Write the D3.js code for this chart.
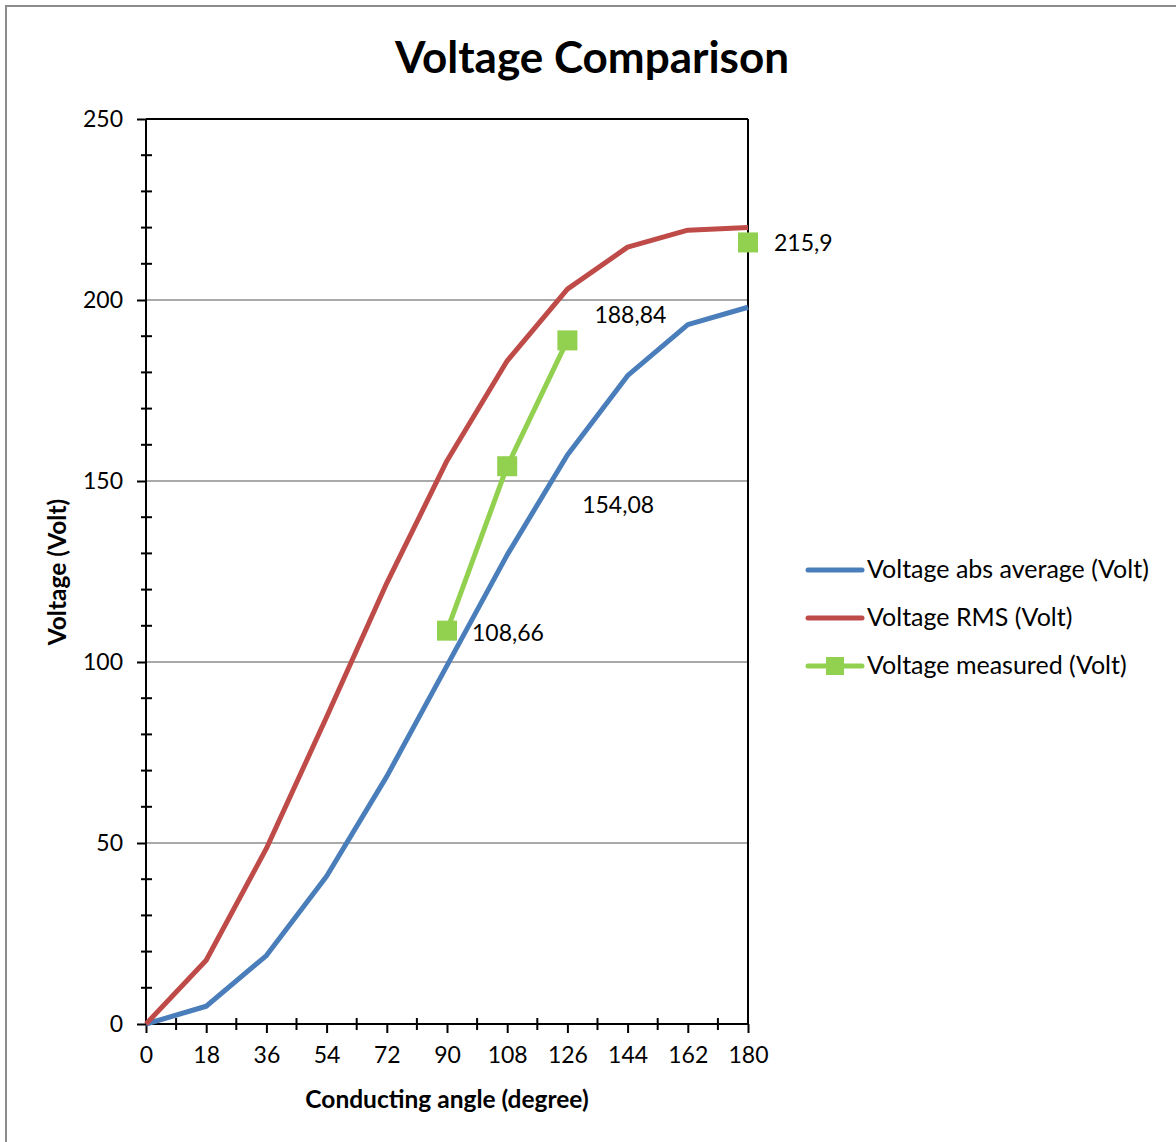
<!DOCTYPE html>
<html>
<head>
<meta charset="utf-8">
<script src="https://cdn.jsdelivr.net/npm/d3@7"></script>
<style>
body{margin:0;background:#fff;}
text{font-family:Lato,'Open Sans',sans-serif;fill:#000;}
</style>
</head>
<body>
<script>
// data
var angles=[0,18,36,54,72,90,108,126,144,162,180];
var absAverage=[0,4.9,18.9,40.8,68.4,99,129.6,157.2,179.1,193.2,198];
var rms=[0,17.6,48.5,84.8,121.8,155.6,183.2,203,214.6,219.3,220];
var measured=[null,null,null,null,null,108.66,154.08,188.84,null,null,215.9];
var measuredLabels=['','','','','','108,66','154,08','188,84','','','215,9'];
var labelShift=[null,null,null,null,null,[25,10],[75,47],[27,-17],null,null,[26,9]];
var yTicks=[0,50,100,150,200,250];
var seriesNames=['Voltage abs average (Volt)','Voltage RMS (Volt)','Voltage measured (Volt)'];
var colors=['#4a7ebb','#be4b48','#92d050'];

var W=1176,H=1142;
var pLeft=146,pRight=748,pTop=119,pBottom=1024;

var svg=d3.select('body').append('svg').attr('width',W).attr('height',H);

// chart frame (goes beyond the picture on the right and bottom)
svg.append('rect')
    .attr('x',6).attr('y',6).attr('width',1300).attr('height',1300)
    .attr('fill','#fff').attr('stroke','#8c8c8c').attr('stroke-width',2);

var x=d3.scaleLinear().domain([0,180]).range([pLeft,pRight]);
var y=d3.scaleLinear().domain([0,250]).range([pBottom,pTop]);

// grid lines
svg.append('g').selectAll('line')
    .data([50,100,150,200])
    .enter().append('line')
    .attr('x1',pLeft).attr('x2',pRight)
    .attr('y1',function(d){return y(d);}).attr('y2',function(d){return y(d);})
    .attr('stroke','#8c8c8c').attr('stroke-width',1.3);

// plot border top / right
svg.append('line').attr('x1',pLeft).attr('x2',pRight).attr('y1',y(250)).attr('y2',y(250))
    .attr('stroke','#000').attr('stroke-width',2);
svg.append('line').attr('x1',pRight).attr('x2',pRight).attr('y1',y(250)).attr('y2',y(0))
    .attr('stroke','#000').attr('stroke-width',2);

// y axis
var yAxis=svg.append('g').attr('transform','translate('+pLeft+',0)')
    .call(d3.axisLeft(y).tickValues(yTicks).tickSize(9).tickPadding(14));
yAxis.select('.domain').attr('stroke','#000').attr('stroke-width',2).attr('d','M0,'+pTop+'V'+pBottom);
yAxis.selectAll('.tick line').attr('stroke','#000').attr('stroke-width',2);
yAxis.selectAll('.tick text').style('font-size','23px').style('font-family','Lato').attr('fill','#000');
// minor y ticks
svg.append('g').selectAll('line')
    .data(d3.range(10,250,10).filter(function(d){return d%50!=0;}))
    .enter().append('line')
    .attr('x1',pLeft-5).attr('x2',pLeft+6)
    .attr('y1',function(d){return y(d);}).attr('y2',function(d){return y(d);})
    .attr('stroke','#000').attr('stroke-width',2);

// x axis
var xAxis=svg.append('g').attr('transform','translate(0,'+pBottom+')')
    .call(d3.axisBottom(x).tickValues(angles).tickSize(9).tickPadding(14));
xAxis.select('.domain').attr('stroke','#000').attr('stroke-width',2).attr('d','M'+pLeft+',0H'+pRight);
xAxis.selectAll('.tick line').attr('stroke','#000').attr('stroke-width',2);
xAxis.selectAll('.tick text').style('font-size','23px').style('font-family','Lato').attr('fill','#000');
svg.append('g').selectAll('line')
    .data(d3.range(9,180,18))
    .enter().append('line')
    .attr('x1',function(d){return x(d);}).attr('x2',function(d){return x(d);})
    .attr('y1',pBottom-6).attr('y2',pBottom+6)
    .attr('stroke','#000').attr('stroke-width',2);

// lines
var line=d3.line()
    .defined(function(d){return d[1]!=null;})
    .x(function(d){return x(d[0]);})
    .y(function(d){return y(d[1]);});
[absAverage,rms,measured].forEach(function(s,i){
    svg.append('path')
        .datum(angles.map(function(a,j){return [a,s[j]];}))
        .attr('d',line)
        .attr('fill','none')
        .attr('stroke',colors[i])
        .attr('stroke-width',5)
        .attr('stroke-linejoin','round');
});
// markers
var mData=angles.map(function(a,j){return {a:a,v:measured[j],t:measuredLabels[j],s:labelShift[j]};})
    .filter(function(d){return d.v!=null;});
svg.append('g').selectAll('rect')
    .data(mData).enter().append('rect')
    .attr('x',function(d){return x(d.a)-10;})
    .attr('y',function(d){return y(d.v)-10;})
    .attr('width',20).attr('height',20)
    .attr('fill',colors[2]);
svg.append('g').selectAll('text')
    .data(mData).enter().append('text')
    .attr('x',function(d){return x(d.a)+d.s[0];})
    .attr('y',function(d){return y(d.v)+d.s[1];})
    .style('font-size','23px')
    .text(function(d){return d.t;});

// title
svg.append('text')
    .attr('x',592).attr('y',73)
    .attr('text-anchor','middle')
    .style('font-size','44px').style('font-weight','bold')
    .text('Voltage Comparison');

// axis titles
svg.append('text')
    .attr('x',447).attr('y',1108)
    .attr('text-anchor','middle')
    .style('font-size','24.5px').style('font-weight','bold')
    .text('Conducting angle (degree)');
svg.append('text')
    .attr('transform','translate(66,572) rotate(-90)')
    .attr('text-anchor','middle')
    .style('font-size','24.5px').style('font-weight','bold')
    .text('Voltage (Volt)');

// legend
var legend=svg.append('g').selectAll('g')
    .data(seriesNames).enter().append('g')
    .attr('transform',function(d,i){return 'translate(808,'+(570+i*48)+')';});
legend.append('line')
    .attr('x1',0).attr('x2',54).attr('y1',0).attr('y2',0)
    .attr('stroke',function(d,i){return colors[i];})
    .attr('stroke-width',5).attr('stroke-linecap','round');
legend.filter(function(d,i){return i==2;}).append('rect')
    .attr('x',18).attr('y',-9).attr('width',18).attr('height',18)
    .attr('fill',colors[2]);
legend.append('text')
    .attr('x',59).attr('y',8)
    .style('font-size','25px')
    .text(function(d){return d;});
</script>
</body>
</html>
